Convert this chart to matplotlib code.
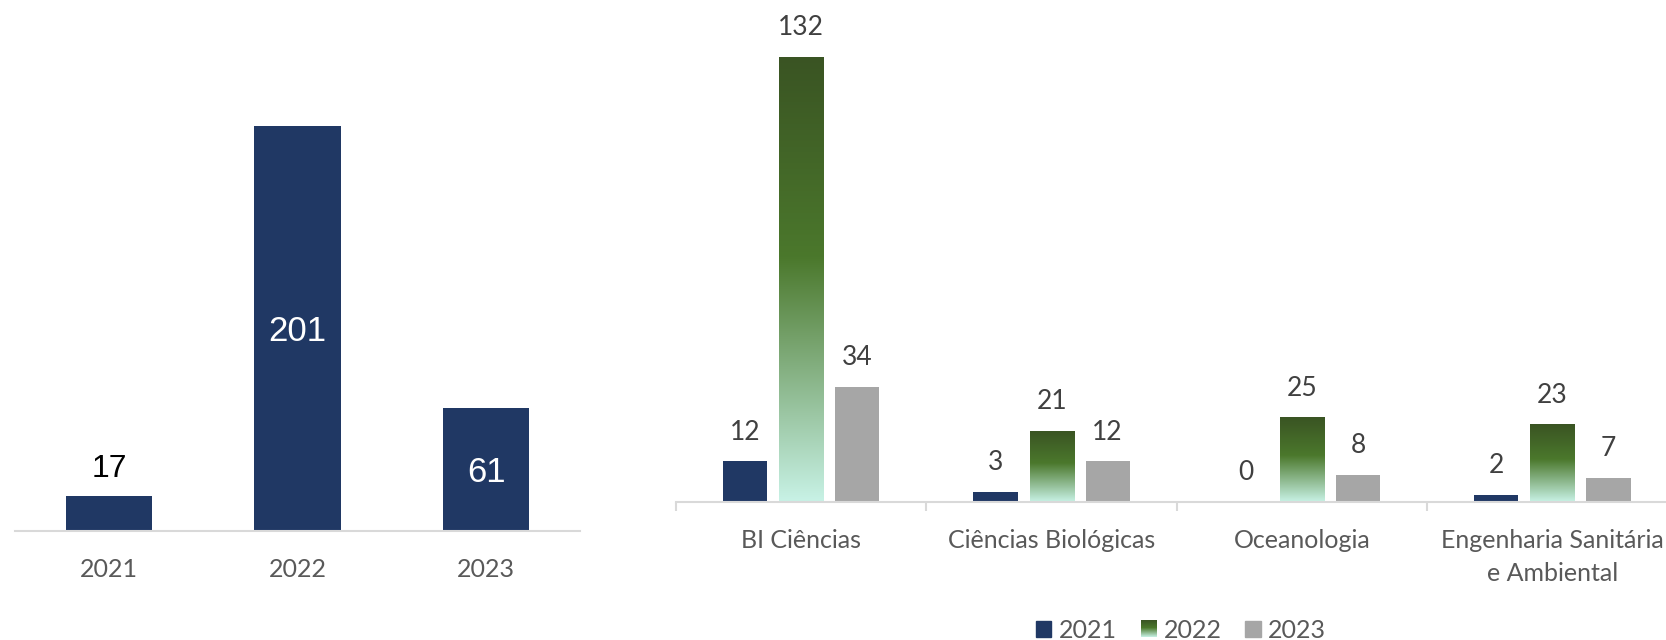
import numpy as np
import matplotlib.pyplot as plt
from matplotlib.colors import LinearSegmentedColormap
from matplotlib.legend_handler import HandlerBase
from matplotlib.image import BboxImage
from matplotlib.transforms import Bbox, TransformedBbox
from matplotlib.patches import Patch

plt.rcParams['font.family'] = ['Lato', 'DejaVu Sans']

# Dados - total por ano
anos = ['2021', '2022', '2023']
totais = [17, 201, 61]

# Dados - por curso
cursos = ['BI Ciências', 'Ciências Biológicas', 'Oceanologia', 'Engenharia Sanitária\ne Ambiental']
serie_2021 = [12, 3, 0, 2]
serie_2022 = [132, 21, 25, 23]
serie_2023 = [34, 12, 8, 7]

azul = '#203864'
cinza = '#a6a6a6'
cor_eixo = '#d9d9d9'
cor_tick = '#595959'
cor_rotulo = '#404040'

# gradiente verde (de cima para baixo)
verde = LinearSegmentedColormap.from_list('verde', [(0, '#3a5423'), (0.45, '#4b782c'), (1, '#c8f2e6')])
gradiente = np.linspace(0, 1, 256).reshape(-1, 1)


class HandlerGradiente(HandlerBase):
    def create_artists(self, legend, orig_handle, xdescent, ydescent, width, height, fontsize, trans):
        caixa = TransformedBbox(Bbox.from_bounds(-xdescent, -ydescent, width, height), trans)
        img = BboxImage(caixa, cmap=verde, interpolation='bilinear')
        img.set_data(gradiente)
        return [img]


W, H = 1666, 640
fig = plt.figure(figsize=(W / 100, H / 100), dpi=100)

# ---------- grafico da esquerda ----------
ax1 = fig.add_axes([14.6 / W, (H - 530.7) / H, 565.8 / W, 503.3 / H])
x1 = np.arange(len(anos))
barras = ax1.bar(x1, totais, width=0.458, color=azul, zorder=2)
ax1.set_xlim(-0.5, len(anos) - 0.5)
ax1.set_ylim(0, 250)

for i, v in enumerate(totais):
    if v < 40:
        ax1.annotate(str(v), xy=(i, v), xytext=(0, 20), textcoords='offset points',
                     ha='center', va='center', fontsize=23, color='black',
                     family=['Liberation Sans', 'DejaVu Sans'])
    else:
        ax1.annotate(str(v), xy=(i, v / 2), xytext=(0, -2), textcoords='offset points',
                     ha='center', va='center', fontsize=25, color='white',
                     family=['Liberation Sans', 'DejaVu Sans'])

for lado in ['top', 'right', 'left']:
    ax1.spines[lado].set_visible(False)
ax1.spines['bottom'].set_color(cor_eixo)
ax1.spines['bottom'].set_linewidth(1.5)
ax1.set_yticks([])
ax1.set_xticks(x1, anos)
ax1.tick_params(axis='x', length=0, pad=19.5, labelsize=18, labelcolor=cor_tick)

# ---------- grafico da direita ----------
ax2 = fig.add_axes([676 / W, (H - 501.7) / H, 1001.6 / W, 471.8 / H])
x2 = np.arange(len(cursos))
desloc = 0.224
larg = 0.176

b1 = ax2.bar(x2 - desloc, serie_2021, width=larg, color=azul, zorder=2)
b2 = ax2.bar(x2, serie_2022, width=larg, color='none', linewidth=0, zorder=2)
b3 = ax2.bar(x2 + desloc, serie_2023, width=larg, color=cinza, zorder=2)

for ret in b2:
    x0 = ret.get_x()
    ax2.imshow(gradiente, cmap=verde, extent=[x0, x0 + ret.get_width(), 0, ret.get_height()],
               aspect='auto', origin='upper', zorder=2, interpolation='bilinear')

for grupo in [b1, b2, b3]:
    for ret in grupo:
        ax2.annotate(str(int(ret.get_height())), xy=(ret.get_x() + ret.get_width() / 2, ret.get_height()),
                     xytext=(0, 21), textcoords='offset points', ha='center', va='center',
                     fontsize=19, color=cor_rotulo)

ax2.set_xlim(-0.5, len(cursos) - 0.5)
ax2.set_ylim(0, 140)

for lado in ['top', 'right', 'left']:
    ax2.spines[lado].set_visible(False)
ax2.spines['bottom'].set_color(cor_eixo)
ax2.spines['bottom'].set_linewidth(1.5)
ax2.set_yticks([])
ax2.set_xticks(np.arange(len(cursos) + 1) - 0.5, [''] * (len(cursos) + 1))
ax2.tick_params(axis='x', which='major', length=6.5, width=1.5, color=cor_eixo)
ax2.set_xticks(x2, cursos, minor=True)
ax2.tick_params(axis='x', which='minor', length=0, pad=19.5, labelsize=18, labelcolor=cor_tick)
for t in ax2.get_xticklabels(minor=True):
    t.set_linespacing(1.55)

# legenda
h2022 = Patch(label='2022')
handles = [Patch(color=azul, label='2021'), h2022, Patch(color=cinza, label='2023')]
fig.legend(handles=handles, loc='center', bbox_to_anchor=(1181 / W, 1 - 630 / H), ncol=3,
           frameon=False, fontsize=18, handlelength=0.62, handleheight=0.62,
           handletextpad=0.3, columnspacing=0.95, labelcolor=cor_tick,
           handler_map={h2022: HandlerGradiente()})

fig.savefig('out.png', dpi=100)
